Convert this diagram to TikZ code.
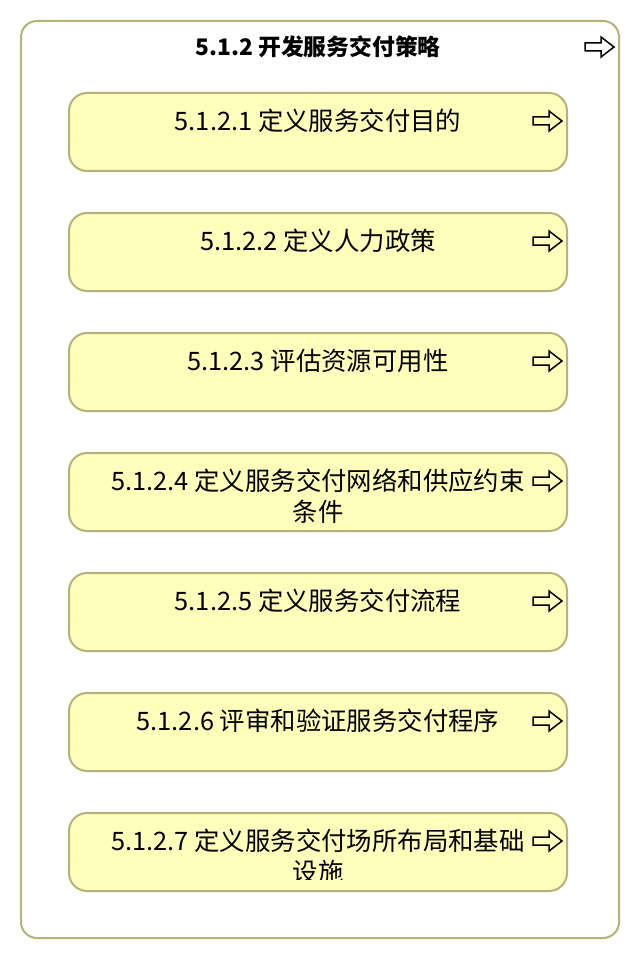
\documentclass[tikz,border=0pt]{standalone}
\usepackage{fontspec}
\setmainfont{Noto Sans CJK SC}
\definecolor{edgeC}{HTML}{B3B37A}
\definecolor{fillY}{HTML}{FFFFBB}
\tikzset{
  outerbox/.style={draw=edgeC, line width=2pt, rounded corners=16pt, fill=white, minimum width=598pt, minimum height=917pt, inner sep=0pt},
  stepbox/.style={draw=edgeC, line width=2pt, rounded corners=18pt, fill=fillY, minimum width=498pt, minimum height=78pt, inner sep=0pt},
  boxtext/.style={font=\fontsize{25.4}{30}\selectfont, anchor=base, inner sep=0pt},
  titletext/.style={font=\bfseries\fontsize{22.8}{28}\selectfont, anchor=base, inner sep=0pt},
  arrowicon/.pic={\draw[line width=1.5pt, line join=miter] (0,-4) -- (16,-4) -- (16,-10) -- (29,0) -- (16,10) -- (16,4) -- (0,4) -- cycle;}
}
\begin{document}
\begin{tikzpicture}[x=1pt,y=-1pt]
\useasboundingbox (0,0) rectangle (640,960);
\node[outerbox] (outer) at (320,479.5) {};
\node[titletext] (title) at (318,55.5) {5.1.2 开发服务交付策略};
\pic at (585,47) {arrowicon};

\node[stepbox] (b1) at (318,132) {};
\node[boxtext] (t1) at (318,130.5) {5.1.2.1 定义服务交付目的};
\pic at (533,121) {arrowicon};

\node[stepbox] (b2) at (318,252) {};
\node[boxtext] (t2) at (318,250.5) {5.1.2.2 定义人力政策};
\pic at (533,241) {arrowicon};

\node[stepbox] (b3) at (318,372) {};
\node[boxtext] (t3) at (318,370.5) {5.1.2.3 评估资源可用性};
\pic at (533,361) {arrowicon};

\node[stepbox] (b4) at (318,492) {};
\node[boxtext] (t4a) at (318,490.5) {5.1.2.4 定义服务交付网络和供应约束};
\node[boxtext] (t4b) at (318,521.5) {条件};
\pic at (533,481) {arrowicon};

\node[stepbox] (b5) at (318,612) {};
\node[boxtext] (t5) at (318,610.5) {5.1.2.5 定义服务交付流程};
\pic at (533,601) {arrowicon};

\node[stepbox] (b6) at (318,732) {};
\node[boxtext] (t6) at (318,730.5) {5.1.2.6 评审和验证服务交付程序};
\pic at (533,721) {arrowicon};

\node[stepbox] (b7) at (318,852) {};
\node[boxtext] (t7a) at (318,850.5) {5.1.2.7 定义服务交付场所布局和基础};
\begin{scope}
\clip (69,813) rectangle (567,879);
\node[boxtext] (t7b) at (318,881.5) {设施};
\end{scope}
\pic at (533,841) {arrowicon};
\end{tikzpicture}
\end{document}
